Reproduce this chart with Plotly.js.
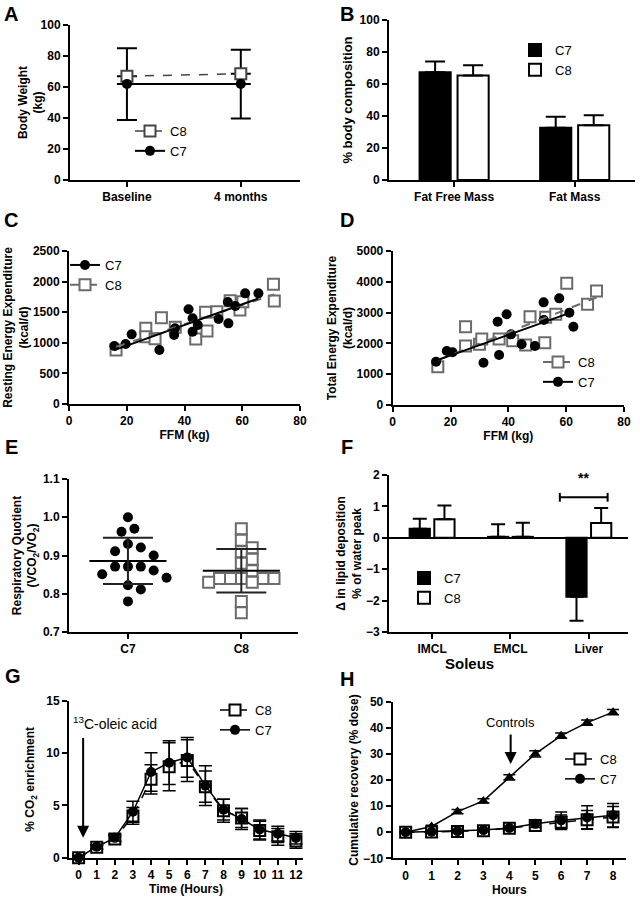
<!DOCTYPE html>
<html>
<head>
<meta charset="utf-8">
<script src="https://cdn.plot.ly/plotly-3.0.1.min.js"></script>
<style>
  html, body { margin: 0; padding: 0; background: white; }
  #fig { width: 640px; height: 900px; }
</style>
</head>
<body>
<div id="fig"></div>
<script>
// ---- A: body weight (C8 error drawn up, C7 error drawn down)
const bwCats = ["Baseline", "4 months"];
const bwC7 = [62, 62];
const bwC7Sd = [23.3, 22.3];
const bwC8 = [67, 68.5];
const bwC8Sd = [18, 15.5];

// ---- B: body composition
const compCats = ["Fat Free Mass", "Fat Mass"];
const compC7 = [67.3, 32.7];
const compC7Sd = [6.8, 6.9];
const compC8 = [65.3, 34.2];
const compC8Sd = [6.4, 6.2];

// ---- C: resting energy expenditure vs FFM
const reeC7Ffm = [15.7, 19.6, 21.7, 31.3, 36.4, 36.7, 41.4, 42.8, 42.8, 44.6, 51.8, 55.0, 55.2, 57.6, 61.0, 65.6];
const reeC7 = [948, 980, 1138, 882, 1127, 1236, 1547, 1400, 1182, 1291, 1389, 1667, 1318, 1601, 1808, 1808];
const reeC8Ffm = [16.3, 26.6, 26.6, 29.8, 32.0, 36.8, 43.9, 47.3, 47.8, 51.2, 55.8, 59.2, 60.2, 70.8, 71.1];
const reeC8 = [882, 1236, 1100, 1067, 1410, 1253, 1062, 1498, 1193, 1509, 1688, 1536, 1672, 1955, 1683];

// ---- D: total energy expenditure vs FFM
const teeC7Ffm = [15.0, 18.7, 20.7, 31.4, 36.3, 36.8, 39.4, 40.9, 44.6, 49.2, 52.2, 52.3, 57.6, 61.1, 62.5];
const teeC7 = [1407, 1753, 1710, 1374, 2706, 1623, 2944, 2294, 1970, 1916, 3333, 2760, 3463, 2998, 2543];
const teeC8Ffm = [15.6, 25.2, 25.2, 30.0, 30.8, 36.8, 41.5, 46.0, 47.5, 52.6, 52.9, 56.4, 60.2, 67.4, 70.5];
const teeC8 = [1245, 2543, 1916, 1970, 2143, 2143, 2089, 1948, 2868, 2024, 2846, 2944, 3950, 3268, 3701];

// ---- E: respiratory quotient
const rqCats = ["C7", "C8"];
const rqC7 = [1.0, 0.97, 0.962, 0.93, 0.921, 0.911, 0.90, 0.871, 0.871, 0.871, 0.861, 0.851, 0.842, 0.822, 0.811, 0.78];
const rqC8 = [0.97, 0.94, 0.92, 0.91, 0.89, 0.88, 0.86, 0.84, 0.84, 0.84, 0.84, 0.84, 0.83, 0.83, 0.78, 0.75];

// ---- F: lipid deposition
const lipidCats = ["IMCL", "EMCL", "Liver"];
const lipidC7 = [0.29, 0.03, -1.88];
const lipidC7Sd = [0.32, 0.40, 0.76];
const lipidC8 = [0.59, 0.03, 0.47];
const lipidC8Sd = [0.44, 0.45, 0.48];

// ---- G: CO2 enrichment
const hoursG = [0, 1, 2, 3, 4, 5, 6, 7, 8, 9, 10, 11, 12];
const co2C7 = [0, 1.05, 1.9, 4.4, 8.2, 9.1, 9.6, 6.9, 4.6, 3.7, 2.7, 2.3, 1.9];
const co2C7Sd = [0.2, 0.2, 0.3, 1.0, 1.85, 2.1, 1.9, 1.9, 1.0, 1.0, 0.9, 0.7, 0.6];
const co2C8 = [0, 1.0, 1.8, 4.0, 7.5, 8.7, 9.3, 6.8, 4.5, 3.8, 2.6, 2.0, 1.6];
const co2C8Sd = [0.2, 0.2, 0.3, 0.8, 1.4, 2.3, 2.0, 1.5, 1.1, 0.9, 0.9, 0.8, 0.7];

// ---- H: cumulative recovery
const hoursH = [0, 1, 2, 3, 4, 5, 6, 7, 8];
const recCtrl = [0, 2.2, 7.9, 12, 21, 30, 37, 42, 46];
const recCtrlSd = [0.3, 0.5, 0.8, 0.8, 1.0, 1.2, 1.0, 1.0, 1.0];
const recC7 = [0, 0.2, 0.4, 0.8, 1.6, 3.2, 4.5, 5.6, 6.5];
const recC7Sd = [0.2, 0.2, 0.3, 0.4, 0.6, 1.4, 3.2, 4.5, 4.5];
const recC8 = [0, 0.1, 0.3, 0.6, 1.5, 2.6, 3.8, 4.8, 5.8];
const recC8Sd = [0.2, 0.2, 0.3, 0.4, 0.6, 1.2, 2.8, 3.5, 4.0];

const FONT = "Liberation Sans, Arial, sans-serif";
const GREY = "#6b6b6b";
const px = x => x / 640;
const py = y => 1 - y / 900;
const idx = a => a.map((_, i) => i);
const zeros = a => a.map(() => 0);

function xax(l, r, extra) {
  return Object.assign({
    domain: [px(l), px(r)], showline: true, linecolor: "black", linewidth: 2,
    ticks: "outside", ticklen: 5, tickwidth: 2, tickcolor: "black",
    showgrid: false, zeroline: false, fixedrange: true,
    tickfont: {family: FONT, size: 12, weight: "bold", color: "black"},
  }, extra);
}
function yax(top, bottom, extra) {
  return xax(0, 640, Object.assign({domain: [py(bottom), py(top)]}, extra));
}
function ttl(text, size, standoff) {
  const t = {text: text, font: {family: FONT, size: size || 12, weight: "bold", color: "black"}};
  if (standoff !== undefined) t.standoff = standoff;
  return t;
}
function leg(x, y) {
  return {x: px(x), y: py(y), xanchor: "left", yanchor: "top", bgcolor: "rgba(0,0,0,0)",
    font: {family: FONT, size: 13, color: "black"}, itemwidth: 30, tracegroupgap: 0};
}

// least squares line over the range of the data
function fit(xs, ys) {
  const n = xs.length;
  const mx = xs.reduce((a, b) => a + b, 0) / n;
  const my = ys.reduce((a, b) => a + b, 0) / n;
  let sxy = 0, sxx = 0;
  for (let i = 0; i < n; i++) { sxy += (xs[i] - mx) * (ys[i] - my); sxx += (xs[i] - mx) ** 2; }
  const b = sxy / sxx, a = my - b * mx;
  const lo = Math.min(...xs), hi = Math.max(...xs);
  return {x: [lo, hi], y: [a + b * lo, a + b * hi]};
}

function meanSd(v) {
  const m = v.reduce((a, b) => a + b, 0) / v.length;
  const sd = Math.sqrt(v.reduce((a, b) => a + (b - m) ** 2, 0) / (v.length - 1));
  return [m, sd];
}

// simple beeswarm: spread points sideways so markers do not overlap
function swarm(vals, center, pxPerX, pxPerY, diam) {
  const placed = [];
  return vals.map(v => {
    const yp = v * pxPerY;
    for (let k = 0; k < 60; k++) {
      const off = (k % 2 ? 1 : -1) * Math.ceil(k / 2) * diam / 2;
      if (placed.every(p => (p[0] - off) ** 2 + (p[1] - yp) ** 2 >= diam * diam)) {
        placed.push([off, yp]);
        return center + off / pxPerX;
      }
    }
    return center;
  });
}

const circ = {symbol: "circle", size: 10, color: "black"};
const sqr = c => ({symbol: "square", size: 11, color: "white", line: {color: c, width: 2}});
const tri = {symbol: "triangle-up", size: 10, color: "black"};
const err = (arr, w, th, minus) => ({type: "data", array: arr, arrayminus: minus || arr,
  symmetric: !minus, color: "black", thickness: th, width: w});

const data = [];

// A
data.push({x: idx(bwCats), y: bwC8, name: "C8", mode: "lines+markers", xaxis: "x", yaxis: "y", legend: "legend",
  line: {color: "#444", width: 1.5, dash: "dash"}, marker: sqr("#444"), error_y: err(bwC8Sd, 10, 2, zeros(bwC8Sd)), cliponaxis: false});
data.push({x: idx(bwCats), y: bwC7, name: "C7", mode: "lines+markers", xaxis: "x", yaxis: "y", legend: "legend",
  line: {color: "black", width: 2}, marker: circ, error_y: err(zeros(bwC7Sd), 10, 2, bwC7Sd), cliponaxis: false});

// B
const upOnly = (v, s) => v.map((d, i) => d >= 0 ? s[i] : 0);
const downOnly = (v, s) => v.map((d, i) => d < 0 ? s[i] : 0);
data.push({type: "bar", x: idx(compCats), y: compC7, name: "C7", xaxis: "x2", yaxis: "y2", legend: "legend2",
  marker: {color: "black", line: {color: "black", width: 2}},
  error_y: err(upOnly(compC7, compC7Sd), 10, 2, downOnly(compC7, compC7Sd))});
data.push({type: "bar", x: idx(compCats), y: compC8, name: "C8", xaxis: "x2", yaxis: "y2", legend: "legend2",
  marker: {color: "white", line: {color: "black", width: 2}},
  error_y: err(upOnly(compC8, compC8Sd), 10, 2, downOnly(compC8, compC8Sd))});

// C and D scatter + regression
function scatterPanel(xa, ya, lg, c7x, c7y, c8x, c8y, c8first) {
  const f7 = fit(c7x, c7y), f8 = fit(c8x, c8y);
  data.push({x: c8x, y: c8y, mode: "markers", xaxis: xa, yaxis: ya, showlegend: false, marker: sqr(GREY), cliponaxis: false});
  data.push({x: c7x, y: c7y, mode: "markers", xaxis: xa, yaxis: ya, showlegend: false, marker: circ, cliponaxis: false});
  data.push({x: f8.x, y: f8.y, mode: "lines", xaxis: xa, yaxis: ya, showlegend: false, line: {color: GREY, width: 2, dash: "dash"}});
  data.push({x: f7.x, y: f7.y, mode: "lines", xaxis: xa, yaxis: ya, showlegend: false, line: {color: "black", width: 2}});
  const l7 = {x: [null], y: [null], name: "C7", mode: "lines+markers", xaxis: xa, yaxis: ya, legend: lg,
    line: {color: "black", width: 2}, marker: circ};
  const l8 = {x: [null], y: [null], name: "C8", mode: "lines+markers", xaxis: xa, yaxis: ya, legend: lg,
    line: {color: GREY, width: 2, dash: "dash"}, marker: sqr(GREY)};
  if (c8first) data.push(l8, l7); else data.push(l7, l8);
}
scatterPanel("x3", "y3", "legend3", reeC7Ffm, reeC7, reeC8Ffm, reeC8, false);
scatterPanel("x4", "y4", "legend4", teeC7Ffm, teeC7, teeC8Ffm, teeC8, true);

// E
[[rqC7, 0, circ, 13], [rqC8, 1, sqr(GREY), 11]].forEach(([vals, c, mk, d]) => {
  const [m, sd] = meanSd(vals);
  data.push({x: swarm(vals, c, 114.5, 383, d), y: vals, mode: "markers", xaxis: "x5", yaxis: "y5",
    showlegend: false, marker: mk, cliponaxis: false});
  data.push({x: [c - 0.34, c + 0.34], y: [m, m], mode: "lines", xaxis: "x5", yaxis: "y5",
    showlegend: false, line: {color: "black", width: 2}});
  data.push({x: [c], y: [m], mode: "markers", xaxis: "x5", yaxis: "y5", showlegend: false,
    marker: {size: 1, color: "rgba(0,0,0,0)"}, error_y: {type: "data", array: [sd], color: "#222", thickness: 2, width: 25}});
});

// F
data.push({type: "bar", x: idx(lipidCats), y: lipidC7, name: "C7", xaxis: "x6", yaxis: "y6", legend: "legend6",
  marker: {color: "black", line: {color: "black", width: 2}},
  error_y: err(upOnly(lipidC7, lipidC7Sd), 7, 2, downOnly(lipidC7, lipidC7Sd))});
data.push({type: "bar", x: idx(lipidCats), y: lipidC8, name: "C8", xaxis: "x6", yaxis: "y6", legend: "legend6",
  marker: {color: "white", line: {color: "black", width: 2}},
  error_y: err(upOnly(lipidC8, lipidC8Sd), 7, 2, downOnly(lipidC8, lipidC8Sd))});

// G
data.push({x: hoursG, y: co2C8, name: "C8", mode: "lines+markers", xaxis: "x7", yaxis: "y7", legend: "legend7",
  line: {color: "black", width: 1.5, dash: "dash"}, marker: sqr("black"), error_y: err(co2C8Sd, 6.5, 1.5), cliponaxis: false});
data.push({x: hoursG, y: co2C7, name: "C7", mode: "lines+markers", xaxis: "x7", yaxis: "y7", legend: "legend7",
  line: {color: "black", width: 1.5}, marker: circ, error_y: err(co2C7Sd, 6.5, 1.5), cliponaxis: false});

// H
data.push({x: hoursH, y: recCtrl, name: "Controls", mode: "lines+markers", xaxis: "x8", yaxis: "y8", showlegend: false,
  line: {color: "black", width: 1.5}, marker: tri, error_y: err(recCtrlSd, 6, 1.5), cliponaxis: false});
data.push({x: hoursH, y: recC8, name: "C8", mode: "lines+markers", xaxis: "x8", yaxis: "y8", legend: "legend8",
  line: {color: "black", width: 1.5, dash: "dash"}, marker: sqr("black"), error_y: err(recC8Sd, 6, 1.5), cliponaxis: false});
data.push({x: hoursH, y: recC7, name: "C7", mode: "lines+markers", xaxis: "x8", yaxis: "y8", legend: "legend8",
  line: {color: "black", width: 1.5}, marker: circ, error_y: err(recC7Sd, 6, 1.5), cliponaxis: false});

const paperTxt = (t, x, y, size, weight) => ({text: t, x: px(x), y: py(y), xref: "paper", yref: "paper",
  xanchor: "center", yanchor: "middle", showarrow: false,
  font: {family: FONT, size: size, weight: weight || "bold", color: "black"}});
const panelLbl = (t, x, y) => paperTxt(t, x, y, 20);

const layout = {
  width: 640, height: 900, margin: {l: 0, r: 0, t: 0, b: 0},
  paper_bgcolor: "white", plot_bgcolor: "white",
  font: {family: FONT, color: "black"},
  barmode: "group", bargap: 0.37, bargroupgap: 0.18,
  xaxis: xax(70, 300, {anchor: "y", range: [-0.5, 1.52], tickvals: idx(bwCats), ticktext: bwCats}),
  yaxis: yax(25, 180, {anchor: "x", range: [0, 100], dtick: 20, title: ttl("Body Weight<br>(kg)")}),
  xaxis2: xax(389, 635, {anchor: "y2", range: [-0.54, 1.5], tickvals: idx(compCats), ticktext: compCats}),
  yaxis2: yax(20, 180, {anchor: "x2", range: [0, 100], dtick: 20, title: ttl("% body composition", 13)}),
  xaxis3: xax(69, 300, {anchor: "y3", range: [0, 80], dtick: 20, title: ttl("FFM (kg)", 12, 3)}),
  yaxis3: yax(251, 404, {anchor: "x3", range: [0, 2500], dtick: 500, title: ttl("Resting Energy Expenditure<br>(kcal/d)")}),
  xaxis4: xax(392.7, 624, {anchor: "y4", range: [0, 80], dtick: 20, title: ttl("FFM (kg)", 12, 3)}),
  yaxis4: yax(251, 405, {anchor: "x4", range: [0, 5000], dtick: 1000, title: ttl("Total Energy Expenditure<br>(kcal/d)")}),
  xaxis5: xax(69, 298, {anchor: "y5", range: [-0.52, 1.5], tickvals: idx(rqCats), ticktext: rqCats}),
  yaxis5: yax(479, 632, {anchor: "x5", range: [0.7, 1.1], dtick: 0.1, tickformat: ".1f",
    title: ttl("Respiratory Quotient<br>(VCO<sub>2</sub>/VO<sub>2</sub>)")}),
  xaxis6: xax(389, 628, {anchor: "y6", range: [-0.55, 2.5], tickvals: idx(lipidCats), ticktext: lipidCats}),
  yaxis6: yax(475, 632, {anchor: "x6", range: [-3, 2], dtick: 1, zeroline: true, zerolinecolor: "black", zerolinewidth: 2,
    title: ttl("Δ in lipid deposition<br>% of water peak")}),
  xaxis7: xax(69, 303, {anchor: "y7", range: [-0.53, 12.39], dtick: 1, title: ttl("Time (Hours)", 12, 3)}),
  yaxis7: yax(701, 857.7, {anchor: "x7", range: [0, 15], dtick: 5, title: ttl("% CO<sub>2</sub> enrichment")}),
  xaxis8: xax(392.7, 626, {anchor: "y8", range: [-0.5, 8.5], dtick: 1, title: ttl("Hours", 12, 3)}),
  yaxis8: yax(701.7, 858.3, {anchor: "x8", range: [-10, 50], dtick: 10, title: ttl("Cumulative recovery (% dose)")}),
  legend: leg(130, 116),
  legend2: leg(515, 35),
  legend3: leg(65, 250),
  legend4: leg(538, 347),
  legend6: leg(404, 563),
  legend7: leg(215, 695),
  legend8: leg(560, 744),
  shapes: [
    {type: "line", xref: "x6", yref: "y6", x0: 1.63, x1: 2.24, y0: 1.29, y1: 1.29, line: {color: "black", width: 2}},
    {type: "line", xref: "x6", yref: "y6", x0: 1.63, x1: 1.63, y0: 1.15, y1: 1.43, line: {color: "black", width: 2}},
    {type: "line", xref: "x6", yref: "y6", x0: 2.24, x1: 2.24, y0: 1.15, y1: 1.43, line: {color: "black", width: 2}},
  ],
  annotations: [
    panelLbl("A", 11, 14), panelLbl("B", 347, 14), panelLbl("C", 11, 220), panelLbl("D", 347, 220),
    panelLbl("E", 11, 447), panelLbl("F", 347, 447), panelLbl("G", 13, 676), panelLbl("H", 347, 679),
    paperTxt("Soleus", 469, 663, 15),
    {text: "**", xref: "x6", yref: "y6", x: 1.935, y: 1.9, showarrow: false,
      font: {family: FONT, size: 14, weight: "bold", color: "black"}},
    {text: "<sup>13</sup>C-oleic acid", xref: "x7", yref: "y7", x: -0.4, y: 12.9, xanchor: "left", showarrow: false,
      font: {family: FONT, size: 14, color: "black"}},
    {text: "", xref: "x7", yref: "y7", axref: "x7", ayref: "y7", x: 0.25, y: 1.9, ax: 0.25, ay: 11.6,
      showarrow: true, arrowhead: 2, arrowsize: 1.2, arrowwidth: 2, arrowcolor: "black"},
    {text: "Controls", xref: "x8", yref: "y8", x: 4.05, y: 42.2, showarrow: false,
      font: {family: FONT, size: 13, color: "black"}},
    {text: "", xref: "x8", yref: "y8", axref: "x8", ayref: "y8", x: 4.05, y: 26.1, ax: 4.05, ay: 38,
      showarrow: true, arrowhead: 2, arrowsize: 1.2, arrowwidth: 2, arrowcolor: "black"},
  ],
};

Plotly.newPlot("fig", data, layout, {staticPlot: true});
</script>
</body>
</html>
